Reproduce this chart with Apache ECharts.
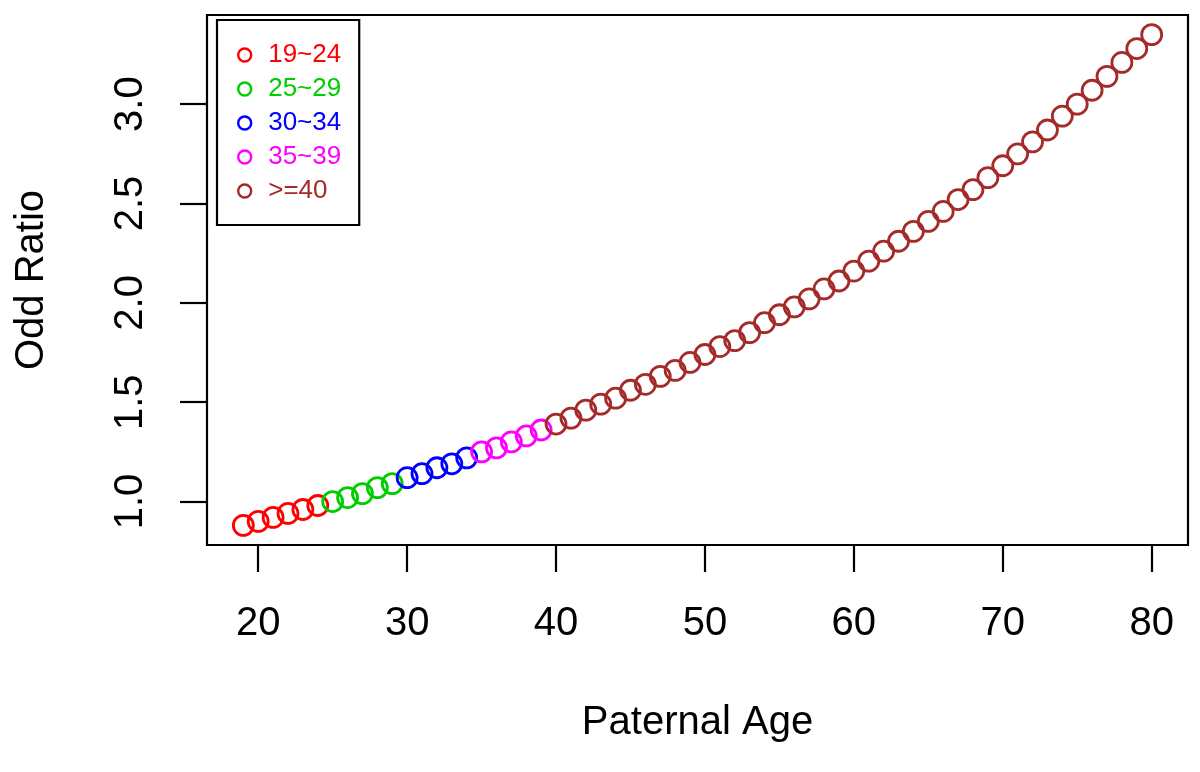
<!DOCTYPE html>
<html>
<head>
<meta charset="utf-8">
<script src="https://cdn.jsdelivr.net/npm/echarts@6/dist/echarts.min.js"></script>
<style>html,body{margin:0;padding:0;background:#fff}#c{width:1200px;height:772px}</style>
</head>
<body>
<div id="c"></div>
<script>
const ages = [19,20,21,22,23,24,25,26,27,28,29,30,31,32,33,34,35,36,37,38,39,40,41,42,43,44,45,46,47,48,49,50,51,52,53,54,55,56,57,58,59,60,61,62,63,64,65,66,67,68,69,70,71,72,73,74,75,76,77,78,79,80];
const oddRatio = [0.88,0.90,0.92,0.94,0.96,0.98,1.00,1.02,1.04,1.07,1.09,1.12,1.14,1.17,1.19,1.22,1.25,1.27,1.30,1.33,1.36,1.39,1.42,1.46,1.49,1.52,1.56,1.59,1.63,1.66,1.70,1.74,1.78,1.81,1.85,1.90,1.94,1.98,2.02,2.07,2.11,2.16,2.21,2.26,2.31,2.36,2.41,2.46,2.52,2.57,2.63,2.69,2.75,2.81,2.87,2.94,3.00,3.07,3.14,3.21,3.28,3.35];
const groupNames = ['19~24','25~29','30~34','35~39','>=40'];
const groupStart = [19,25,30,35,40];
const groupEnd = [24,29,34,39,80];
const xTicks = [20,30,40,50,60,70,80];
const yTicks = [1.0,1.5,2.0,2.5,3.0];

const colors = ['#FF0000','#00CD00','#0000FF','#FF00FF','#A52A2A'];
const font = 'Liberation Sans, Helvetica, Arial, sans-serif';

const series = groupNames.map((g, i) => ({
  name: g,
  type: 'scatter',
  symbol: 'circle',
  symbolSize: 20,
  itemStyle: { color: 'rgba(255,255,255,0)', borderColor: colors[i], borderWidth: 2.8, opacity: 1 },
  data: ages.map((a, k) => [a, oddRatio[k]]).filter(d => d[0] >= groupStart[i] && d[0] <= groupEnd[i])
}));

const chart = echarts.init(document.getElementById('c'), null, { renderer: 'canvas' });
chart.setOption({
  animation: false,
  backgroundColor: '#fff',
  textStyle: { fontFamily: font },
  grid: { left: 207, right: 12, top: 15, bottom: 227, show: true, borderColor: '#000', borderWidth: 2.2, backgroundColor: 'transparent' },
  xAxis: {
    type: 'value', min: 16.56, max: 82.44,
    name: 'Paternal Age', nameLocation: 'middle', nameGap: 158,
    nameTextStyle: { fontSize: 40, color: '#000', fontFamily: font },
    axisLine: { show: false },
    splitLine: { show: false },
    axisTick: { show: true, length: 27, lineStyle: { color: '#000', width: 2.2 }, customValues: xTicks },
    axisLabel: { fontSize: 40, color: '#000', margin: 59, fontFamily: font, customValues: xTicks }
  },
  yAxis: {
    type: 'value', min: 0.7812, max: 3.4488,
    name: 'Odd Ratio', nameLocation: 'middle', nameGap: 155,
    nameTextStyle: { fontSize: 40, color: '#000', fontFamily: font },
    axisLine: { show: false },
    splitLine: { show: false },
    axisTick: { show: true, length: 27, lineStyle: { color: '#000', width: 2.2 }, customValues: yTicks },
    axisLabel: { fontSize: 40, color: '#000', margin: 56, rotate: 90, fontFamily: font, customValues: yTicks, formatter: v => v.toFixed(1) }
  },
  legend: {
    orient: 'vertical', left: 217, top: 20,
    padding: [22, 18, 21, 20],
    borderColor: '#000', borderWidth: 2.2,
    itemWidth: 13, itemHeight: 13, itemGap: 8,
    icon: 'circle',
    itemStyle: { borderWidth: 2.4, color: 'rgba(255,255,255,0)' },
    textStyle: { fontSize: 26, lineHeight: 26, padding: [0, 0, 0, 12], fontFamily: font },
    data: groupNames.map((g, i) => ({ name: g, textStyle: { color: colors[i] }, itemStyle: { borderColor: colors[i] } }))
  },
  series: series
});
</script>
</body>
</html>
